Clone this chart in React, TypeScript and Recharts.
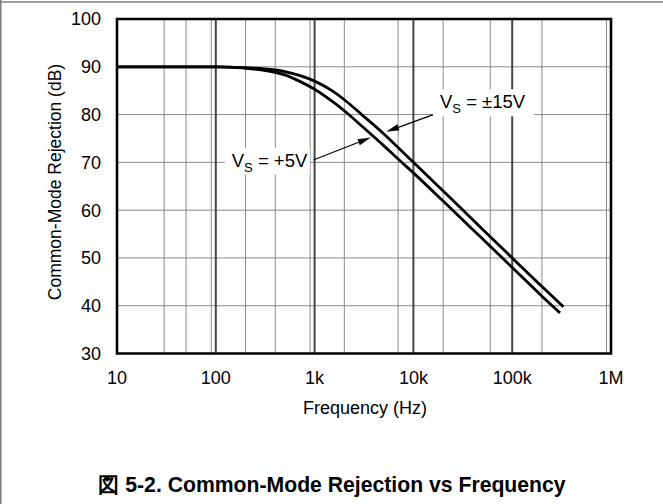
import React from 'react';
import {
  ComposedChart,
  Line,
  XAxis,
  YAxis,
  CartesianGrid,
  ReferenceArea,
  ReferenceLine,
  ReferenceDot,
} from 'recharts';

// axis ticks
const freqTicks = [10, 100, 1000, 10000, 100000, 1000000];
const freqTickLabels = ['10', '100', '1k', '10k', '100k', '1M'];
const dbTicks = [30, 40, 50, 60, 70, 80, 90, 100];
const minorSteps = [2, 3, 4, 5, 6, 7, 8, 9];

// Vs = ±15V
const freq15 = [10, 100, 200, 300, 500, 700, 1000, 1500, 2000, 3000, 5000, 7000, 10000, 20000, 30000, 50000, 100000, 200000, 330000];
const cmr15 = [90, 90, 89.8, 89.6, 89.0, 88.2, 87.0, 85.0, 83.1, 80.0, 76.0, 73.1, 70.0, 64.0, 60.5, 56.0, 50.0, 44.0, 39.8];

// Vs = +5V
const freq5 = [10, 100, 200, 300, 500, 700, 1000, 1500, 2000, 3000, 5000, 7000, 10000, 20000, 30000, 50000, 100000, 200000, 305000];
const cmr5 = [90, 90, 89.7, 89.3, 88.3, 87.0, 85.3, 82.8, 80.8, 77.6, 73.5, 70.7, 67.8, 61.9, 58.4, 54.0, 48.0, 42.0, 38.5];

const FONT = "'Liberation Sans', Arial, Helvetica, sans-serif";

const data15 = freq15.map((f, i) => ({ f, v: cmr15[i] }));
const data5 = freq5.map((f, i) => ({ f, v: cmr5[i] }));

const minorFreqs: number[] = [];
freqTicks.slice(0, -1).forEach((d) => minorSteps.forEach((m) => minorFreqs.push(d * m)));

const fmtFreq = (v: number) => freqTickLabels[freqTicks.indexOf(v)] ?? String(v);

// arrow drawn from (x1,y1) to the tip at (x2,y2)
const Arrow = (p: any) => {
  const { x1, y1, x2, y2 } = p;
  const dx = x2 - x1;
  const dy = y2 - y1;
  const len = Math.sqrt(dx * dx + dy * dy) || 1;
  const ux = dx / len;
  const uy = dy / len;
  const hl = 13;
  const hw = 3.2;
  const bx = x2 - ux * hl;
  const by = y2 - uy * hl;
  return (
    <g>
      <line x1={x1} y1={y1} x2={bx} y2={by} stroke="#000" strokeWidth={1.2} />
      <polygon
        points={`${x2},${y2} ${bx - uy * hw},${by + ux * hw} ${bx + uy * hw},${by - ux * hw}`}
        fill="#000"
      />
    </g>
  );
};

const VsLabel = (text: string, boxW: number) => (p: any) => {
  const { cx, cy } = p;
  return (
    <g>
      <rect x={cx - 7} y={cy - 19} width={boxW} height={27} fill="#fff" />
      <text x={cx} y={cy} fontFamily={FONT} fontSize={18.5} fill="#000">
        V
        <tspan fontSize={13} dy={5}>S</tspan>
        <tspan dy={-5}>{text}</tspan>
      </text>
    </g>
  );
};

export default function App() {
  return (
    <div style={{ position: 'absolute', left: 0, top: 0, width: 663, height: 504, background: '#fff' }}>
      <ComposedChart
        width={663}
        height={504}
        margin={{ top: 19, right: 52, bottom: 0, left: 0 }}
      >
        <CartesianGrid
          stroke="#8a8a8a"
          strokeWidth={1}
          horizontalValues={dbTicks}
          verticalValues={minorFreqs}
        />
        <CartesianGrid
          stroke="#444"
          strokeWidth={2}
          horizontal={false}
          verticalValues={freqTicks}
        />
        <XAxis
          dataKey="f"
          type="number"
          scale="log"
          domain={[10, 1000000]}
          ticks={freqTicks}
          tickFormatter={fmtFreq}
          allowDataOverflow
          axisLine={false}
          tickLine={false}
          tickSize={0}
          tickMargin={18}
          height={150.5}
          tick={{ fill: '#000', fontSize: 18, fontFamily: FONT }}
        />
        <YAxis
          type="number"
          domain={[30, 100]}
          ticks={dbTicks}
          allowDataOverflow
          axisLine={false}
          tickLine={false}
          tickSize={0}
          tickMargin={16}
          width={117}
          tick={{ fill: '#000', fontSize: 18, fontFamily: FONT }}
        />
        <ReferenceDot x={18600} y={81.3} r={0} shape={VsLabel(' = \u00b115V', 101)} />
        <ReferenceDot x={145} y={69.1} r={0} shape={VsLabel(' = +5V', 85)} />
        <Line
          data={data15}
          dataKey="v"
          type="monotone"
          stroke="#000"
          strokeWidth={2.8}
          dot={false}
          activeDot={false}
          isAnimationActive={false}
        />
        <Line
          data={data5}
          dataKey="v"
          type="monotone"
          stroke="#000"
          strokeWidth={2.8}
          dot={false}
          activeDot={false}
          isAnimationActive={false}
        />
        <ReferenceLine
          segment={[{ x: 17500, y: 80.3 }, { x: 5300, y: 76.4 }]}
          shape={Arrow}
        />
        <ReferenceLine
          segment={[{ x: 971, y: 70.5 }, { x: 3700, y: 75.2 }]}
          shape={Arrow}
        />
        <ReferenceArea
          x1={10}
          x2={1000000}
          y1={30}
          y2={100}
          fill="none"
          stroke="#000"
          strokeWidth={2.6}
          fillOpacity={0}
        />
      </ComposedChart>
      <svg
        width={663}
        height={504}
        style={{ position: 'absolute', left: 0, top: 0, pointerEvents: 'none' }}
      >
        <line x1={0} y1={2} x2={663} y2={2} stroke="#808080" strokeWidth={1.6} />
        <line x1={0.8} y1={0} x2={0.8} y2={504} stroke="#808080" strokeWidth={1.6} />
        <text
          transform="translate(61,182) rotate(-90)"
          textAnchor="middle"
          fontFamily={FONT}
          fontSize={17.5}
          fill="#000"
        >
          Common-Mode Rejection (dB)
        </text>
        <text x={365} y={414} textAnchor="middle" fontFamily={FONT} fontSize={18} fill="#000">
          Frequency (Hz)
        </text>
        <text
          x={332}
          y={491.5}
          textAnchor="middle"
          fontFamily={FONT}
          fontSize={21.2}
          fontWeight="bold"
          fill="#000"
        >
          図 5-2. Common-Mode Rejection vs Frequency
        </text>
      </svg>
    </div>
  );
}
